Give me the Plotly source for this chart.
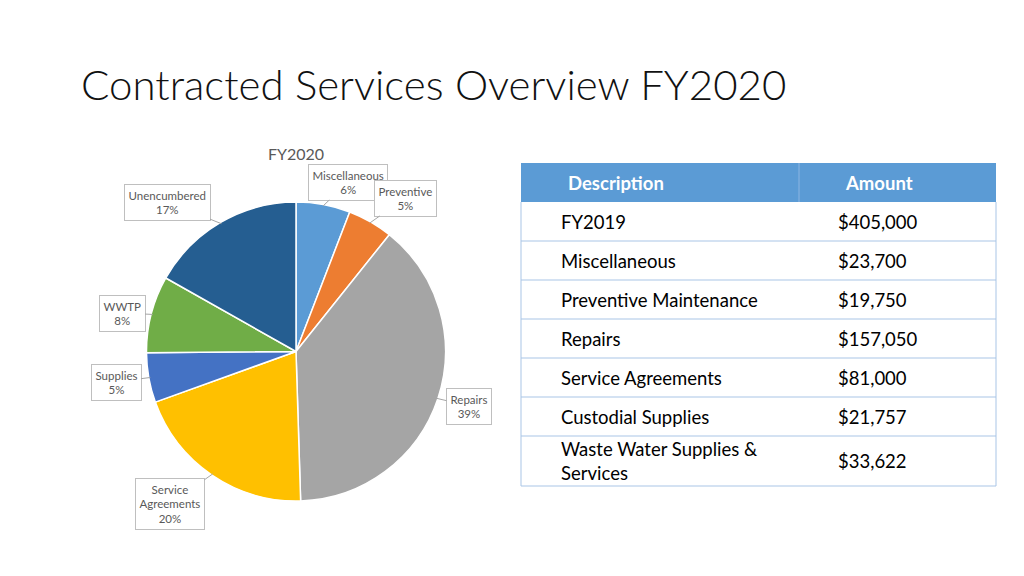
import math
import plotly.graph_objects as go

# ---------------- data ----------------
categories = ["Miscellaneous", "Preventive", "Repairs", "Service Agreements",
              "Supplies", "WWTP", "Unencumbered"]
label_lines = ["Miscellaneous", "Preventive", "Repairs", "Service<br>Agreements",
               "Supplies", "WWTP", "Unencumbered"]
values = [23700, 19750, 157050, 81000, 21757, 33622, 68121]
colors = ["#5B9BD5", "#ED7D31", "#A5A5A5", "#FFC000", "#4472C4", "#70AD47", "#255E91"]

table_header = ["Description", "Amount"]
table_desc = ["FY2019", "Miscellaneous", "Preventive Maintenance", "Repairs",
              "Service Agreements", "Custodial Supplies",
              "Waste Water Supplies &<br>Services"]
table_amount = [405000, 23700, 19750, 157050, 81000, 21757, 33622]

# ---------------- layout constants ----------------
W, H = 1024, 576
FONT = "Lato"
PIE_CX, PIE_CY, PIE_R = 296, 351.5, 149.5
# label box centres (pixels)
label_pos = {
    "Miscellaneous": (348, 182),
    "Preventive": (405, 198),
    "Repairs": (469, 406),
    "Service Agreements": (170, 504),
    "Supplies": (116, 382),
    "WWTP": (122, 313),
    "Unencumbered": (167, 202),
}

def px(x):
    return x / W

def py(y):
    return 1 - y / H

fig = go.Figure()

fig.add_trace(go.Pie(
    labels=categories, values=values, sort=False, direction="clockwise",
    rotation=0, textinfo="none", textposition="none", hoverinfo="label+percent",
    marker=dict(colors=colors, line=dict(color="white", width=1.5)),
    domain=dict(x=[px(PIE_CX - PIE_R), px(PIE_CX + PIE_R)],
                y=[py(PIE_CY + PIE_R), py(PIE_CY - PIE_R)]),
    showlegend=False,
))

annotations = []
shapes = []

# pie data labels with leader lines
total = sum(values)
cum = 0
for cat, txt, v in zip(categories, label_lines, values):
    mid = (cum + v / 2) / total * 2 * math.pi
    cum += v
    ex = PIE_CX + PIE_R * 0.99 * math.sin(mid)
    ey = PIE_CY - PIE_R * 0.99 * math.cos(mid)
    lx, ly = label_pos[cat]
    pct = round(v / total * 100)
    annotations.append(dict(
        x=px(ex), y=py(ey), xref="paper", yref="paper",
        ax=lx - ex, ay=ly - ey, axref="pixel", ayref="pixel",
        text=f"{txt}<br>{pct}%", showarrow=True, arrowhead=0,
        arrowwidth=1, arrowcolor="#A6A6A6", standoff=0,
        font=dict(family=FONT, size=11.5, color="#595959"),
        bgcolor="white", bordercolor="#BFBFBF", borderwidth=1, borderpad=3.5,
        align="center",
    ))

# titles
annotations.append(dict(
    x=px(79), y=py(84), xref="paper", yref="paper", xanchor="left", yanchor="middle",
    text="Contracted Services Overview FY2020", showarrow=False,
    font=dict(family=FONT, size=42, color="#111111", weight=300),
))
annotations.append(dict(
    x=px(296), y=py(153), xref="paper", yref="paper", xanchor="center", yanchor="middle",
    text="FY2020", showarrow=False,
    font=dict(family=FONT, size=16, color="#595959"),
))

# ---------------- table ----------------
TX0, TX1, TSPLIT = 521, 996, 799
HEAD_Y0, HEAD_H = 163, 39
ROW_H1, ROW_H2 = 39, 50
BORDER = "#A9C5E6"
TFONT = 18.5

shapes.append(dict(type="rect", xref="paper", yref="paper",
                   x0=px(TX0), x1=px(TX1), y0=py(HEAD_Y0 + HEAD_H), y1=py(HEAD_Y0),
                   fillcolor="#5B9BD5", line=dict(width=0), layer="below"))
shapes.append(dict(type="line", xref="paper", yref="paper",
                   x0=px(TSPLIT), x1=px(TSPLIT), y0=py(HEAD_Y0 + HEAD_H), y1=py(HEAD_Y0),
                   line=dict(color="#8DB5E2", width=1)))
annotations.append(dict(x=px(566), y=py(HEAD_Y0 + HEAD_H / 2), xref="paper", yref="paper",
                        xanchor="left", yanchor="middle", showarrow=False,
                        text=f"<b>{table_header[0]}</b>",
                        font=dict(family=FONT, size=TFONT, color="white")))
annotations.append(dict(x=px(843), y=py(HEAD_Y0 + HEAD_H / 2), xref="paper", yref="paper",
                        xanchor="left", yanchor="middle", showarrow=False,
                        text=f"<b>{table_header[1]}</b>",
                        font=dict(family=FONT, size=TFONT, color="white")))

y = HEAD_Y0 + HEAD_H
for d, a in zip(table_desc, table_amount):
    h = ROW_H2 if "<br>" in d else ROW_H1
    yc = y + h / 2
    annotations.append(dict(x=px(559), y=py(yc), xref="paper", yref="paper",
                            xanchor="left", yanchor="middle", showarrow=False, align="left",
                            text=d, font=dict(family=FONT, size=TFONT, color="#000000")))
    annotations.append(dict(x=px(836), y=py(yc), xref="paper", yref="paper",
                            xanchor="left", yanchor="middle", showarrow=False,
                            text=f"${a:,}", font=dict(family=FONT, size=TFONT, color="#000000")))
    y += h
    shapes.append(dict(type="line", xref="paper", yref="paper",
                       x0=px(TX0), x1=px(TX1), y0=py(y), y1=py(y),
                       line=dict(color=BORDER, width=1)))
# outer vertical borders of body
for xx in (TX0, TX1):
    shapes.append(dict(type="line", xref="paper", yref="paper",
                       x0=px(xx), x1=px(xx), y0=py(HEAD_Y0 + HEAD_H), y1=py(y),
                       line=dict(color=BORDER, width=1)))

fig.update_layout(
    width=W, height=H, margin=dict(l=0, r=0, t=0, b=0),
    paper_bgcolor="white", plot_bgcolor="white",
    annotations=annotations, shapes=shapes, showlegend=False,
)

fig.write_html("out.html", config={"displayModeBar": False},
               post_script="document.body.style.margin='0';document.body.style.overflow='hidden';")
